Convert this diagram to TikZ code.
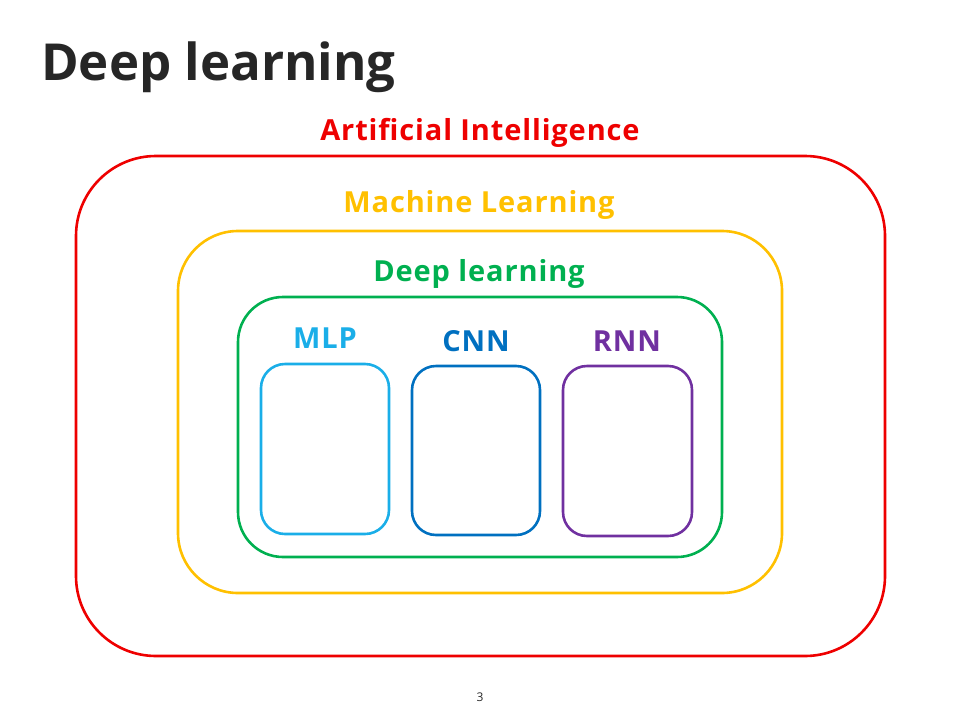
\documentclass[tikz,border=0pt]{standalone}
\usepackage{fontspec}
\setmainfont{Open Sans}
\definecolor{aired}{HTML}{EE0000}
\definecolor{mlyel}{HTML}{FFC000}
\definecolor{dlgreen}{HTML}{00B050}
\definecolor{mlpblue}{HTML}{1AAEE8}
\definecolor{cnnblue}{HTML}{0070C0}
\definecolor{rnnpurple}{HTML}{7030A0}
\definecolor{titlegray}{HTML}{262626}
\tikzset{
  frame/.style={draw=#1, line width=2.6pt, rounded corners},
  lbl/.style={text=#1, font=\bfseries\fontsize{29}{32}\selectfont\addfontfeatures{LetterSpace=3}, inner sep=0pt, anchor=center},
}
\begin{document}
\begin{tikzpicture}[x=1pt,y=-1pt]
\useasboundingbox (0,0) rectangle (960,720);
\node[anchor=west, inner sep=0pt, text=titlegray, font=\bfseries\fontsize{51}{60}\selectfont] (title) at (41,67) {Deep learning};
% boxes
\draw[frame=aired, rounded corners=80pt] (76,156) rectangle (885,656);
\node[lbl=aired] (ailbl) at (480,133) {Artificial Intelligence};
\draw[frame=mlyel, rounded corners=60pt] (178,231) rectangle (782,593);
\node[lbl=mlyel] (mllbl) at (479,205) {Machine Learning};
\draw[frame=dlgreen, rounded corners=45pt] (238,297) rectangle (722,557);
\node[lbl=dlgreen] (dllbl) at (479,274) {Deep learning};
\draw[frame=mlpblue, rounded corners=24pt] (261,364) rectangle (389,534);
\node[lbl=mlpblue] (mlplbl) at (325,338) {MLP};
\draw[frame=cnnblue, rounded corners=24pt] (412,366) rectangle (540,535);
\node[lbl=cnnblue] (cnnlbl) at (476,341) {CNN};
\draw[frame=rnnpurple, rounded corners=24pt] (563,366) rectangle (692,536);
\node[lbl=rnnpurple] (rnnlbl) at (627,341) {RNN};
\node[inner sep=0pt, text=titlegray, font=\fontsize{12}{14}\selectfont] (page) at (480,697) {3};
\end{tikzpicture}
\end{document}
